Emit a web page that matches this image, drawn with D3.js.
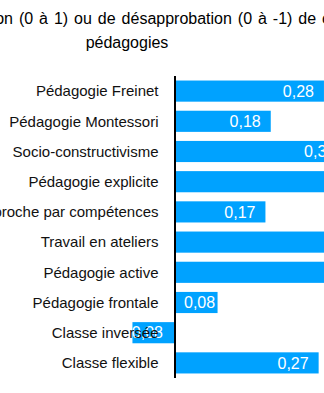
<!DOCTYPE html>
<html lang="fr">
<head>
<meta charset="utf-8">
<script src="https://cdn.jsdelivr.net/npm/d3@7"></script>
<style>
  html, body { margin: 0; padding: 0; background: #fff; overflow: hidden; }
  svg { display: block; font-family: "Liberation Sans", Arial, sans-serif; }
</style>
</head>
<body>
<svg id="chart" width="324" height="393"></svg>
<script>
// Pédagogies et degré d'approbation moyen (de -1 à 1)
const categories = [
  "Pédagogie Freinet",
  "Pédagogie Montessori",
  "Socio-constructivisme",
  "Pédagogie explicite",
  "Approche par compétences",
  "Travail en ateliers",
  "Pédagogie active",
  "Pédagogie frontale",
  "Classe inversée",
  "Classe flexible"
];
const values = [0.28, 0.18, 0.32, 0.41, 0.17, 0.38, 0.45, 0.08, -0.08, 0.27];
const titleLines = [
  "Degré d'approbation (0 à 1) ou de désapprobation (0 à -1) de certaines",
  "pédagogies"
];

const fmt = v => d3.format(".2f")(v).replace(".", ",").replace("−", "-");

const svg = d3.select("#chart");
const barColor = "#00a2ff";

// horizontal value scale: zero sits on the category axis
const zeroX = 175;
const pxPerUnit = 532;
const x = d3.scaleLinear()
  .domain([-0.3, 0.6])
  .range([zeroX - 0.3 * pxPerUnit, zeroX + 0.6 * pxPerUnit]);

const y = d3.scaleBand()
  .domain(categories)
  .range([76, 378])
  .paddingInner(0.3)
  .paddingOuter(0.15);

const data = categories.map((c, i) => ({ c, v: values[i] }));

// title
svg.append("g")
  .selectAll("text")
  .data(titleLines)
  .join("text")
  .attr("x", 127)
  .attr("y", (d, i) => 24 + i * 24)
  .attr("text-anchor", "middle")
  .attr("font-size", 16)
  .attr("word-spacing", 1.5)
  .attr("fill", "#000")
  .text(d => d);

// bars
svg.append("g")
  .selectAll("rect")
  .data(data)
  .join("rect")
  .attr("x", d => Math.min(x(0), x(d.v)))
  .attr("y", d => y(d.c))
  .attr("width", d => Math.abs(x(d.v) - x(0)))
  .attr("height", y.bandwidth())
  .attr("fill", barColor);

// value labels, placed at the inner end of each bar
const labels = svg.append("g")
  .selectAll("text")
  .data(data)
  .join("text")
  .attr("y", d => y(d.c) + y.bandwidth() / 2)
  .attr("dy", "0.35em")
  .attr("font-size", 16)
  .attr("fill", "#fff")
  .text(d => fmt(d.v));

labels.each(function (d) {
  const w = this.getComputedTextLength();
  let start;
  if (d.v >= 0) {
    start = x(d.v) - 10 - w;
    start = Math.max(start, x(0) + 9);
  } else {
    start = x(d.v) + 2;
    start = Math.min(start, x(0) - 12 - w);
  }
  d3.select(this).attr("x", start);
});

// category axis line
svg.append("line")
  .attr("x1", zeroX).attr("x2", zeroX)
  .attr("y1", y.range()[0]).attr("y2", y.range()[1])
  .attr("stroke", "#000")
  .attr("stroke-width", 2);

// category labels
svg.append("g")
  .selectAll("text")
  .data(categories)
  .join("text")
  .attr("x", zeroX - 16.5)
  .attr("y", d => y(d) + y.bandwidth() / 2)
  .attr("dy", "0.35em")
  .attr("text-anchor", "end")
  .attr("font-size", 15)
  .attr("fill", "#111")
  .text(d => d);
</script>
</body>
</html>
